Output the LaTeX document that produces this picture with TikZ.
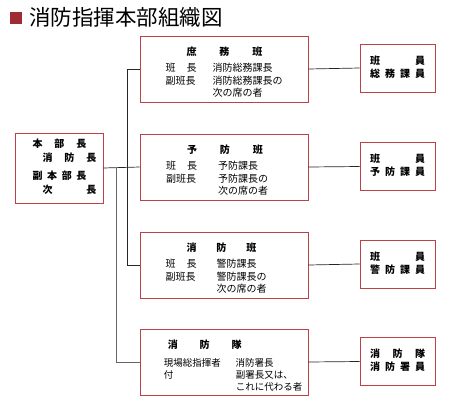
\documentclass[tikz,border=0pt]{standalone}
\usepackage{%
	fontspec,%
	array,%
}
\setmainfont{Noto Sans CJK JP}
\definecolor{BoxRed}{RGB}{192,64,72}
\definecolor{TitleRed}{RGB}{158,44,48}
\newcommand{\spreadtext}[2]{\makebox[#1][s]{#2}}
\newcommand{\hanhead}[2]{\rule{0pt}{18pt}\bfseries\spreadtext{#1}{#2}}
\usetikzlibrary{positioning, calc}

\begin{document}
\begin{tikzpicture}[x=1pt, y=-1pt,
	hanbox/.style={draw=BoxRed, line width=0.8pt, minimum width=168pt, minimum height=66pt, inner sep=0pt, font=\fontsize{10}{12.5}\selectfont},
	chiefbox/.style={draw=BoxRed, line width=0.8pt, minimum width=88pt, minimum height=70pt, inner sep=0pt, font=\bfseries\fontsize{10}{14}\selectfont},
	staffbox/.style={draw=BoxRed, line width=0.8pt, minimum width=75pt, minimum height=48pt, inner sep=0pt, font=\bfseries\fontsize{10}{13}\selectfont},
	conn/.style={draw=black!85, line width=0.7pt}]
	\useasboundingbox (0,0) rectangle (450,410);
	% title
	\node (bullet) at (16,17.5) [fill=TitleRed, minimum size=12pt, inner sep=0pt] {};
	\node (title) at (29,17) [anchor=west, inner sep=0pt, font=\fontsize{21.5}{21.5}\selectfont] {消防指揮本部組織図};
	% chief
	\node (chief) at (59,168) [chiefbox] {%
		\begin{tabular}{@{\hspace{11pt}}l@{}}
			\spreadtext{54pt}{本\hfill 部\hfill 長}\\
			\hspace*{10pt}\spreadtext{54pt}{消\hfill 防\hfill 長}\\[4pt]
			\spreadtext{54pt}{副\hfill 本\hfill 部\hfill 長}\\
			\hspace*{10pt}\spreadtext{54pt}{次\hfill 長}
		\end{tabular}};
	% sections
	\node (shomu) at (224,69) [hanbox] {%
		\begin{tabular}{@{}l@{\hspace{16pt}}l@{}}
			\multicolumn{2}{@{\hspace{21pt}}l@{}}{\hanhead{76pt}{庶\hfill 務\hfill 班}}\\[4pt]
			\spreadtext{31pt}{班\hfill 長} & 消防総務課長\\
			副班長 & 消防総務課長の\\
			& 次の席の者
		\end{tabular}};
	\node (yobou) at (224,167) [hanbox] {%
		\begin{tabular}{@{}l@{\hspace{21pt}}l@{\hspace{14pt}}}
			\multicolumn{2}{@{\hspace{21pt}}l@{}}{\hanhead{76pt}{予\hfill 防\hfill 班}}\\[4pt]
			\spreadtext{31pt}{班\hfill 長} & 予防課長\\
			副班長 & 予防課長の\\
			& 次の席の者
		\end{tabular}};
	\node (keibou) at (224,265) [hanbox] {%
		\begin{tabular}{@{}l@{\hspace{20pt}}l@{\hspace{16pt}}}
			\multicolumn{2}{@{\hspace{21pt}}l@{}}{\hanhead{70pt}{消\hfill 防\hfill 班}}\\[4pt]
			\spreadtext{31pt}{班\hfill 長} & 警防課長\\
			副班長 & 警防課長の\\
			& 次の席の者
		\end{tabular}};
	\node (tai) at (224,362) [hanbox, font=\fontsize{9.5}{12}\selectfont] {%
		\begin{tabular}{@{\hspace{18pt}}l@{\hspace{15pt}}l@{}}
			\multicolumn{2}{@{\hspace{22pt}}l@{}}{\fontsize{10}{12}\selectfont\hanhead{74pt}{消\hfill 防\hfill 隊}}\\[6pt]
			現場総指揮者 & 消防署長\\
			付 & 副署長又は、\\
			& これに代わる者
		\end{tabular}};
	% staff
	\node (shomustaff) at (397.5,68) [staffbox] {%
		\begin{tabular}{@{}l@{}}
			\spreadtext{55pt}{班\hfill 員}\\
			\spreadtext{55pt}{総\hfill 務\hfill 課\hfill 員}
		\end{tabular}};
	\node (yoboustaff) at (397.5,166.5) [staffbox] {%
		\begin{tabular}{@{}l@{}}
			\spreadtext{55pt}{班\hfill 員}\\
			\spreadtext{55pt}{予\hfill 防\hfill 課\hfill 員}
		\end{tabular}};
	\node (keiboustaff) at (397.5,264) [staffbox] {%
		\begin{tabular}{@{}l@{}}
			\spreadtext{55pt}{班\hfill 員}\\
			\spreadtext{55pt}{警\hfill 防\hfill 課\hfill 員}
		\end{tabular}};
	\node (taistaff) at (397.5,361.5) [staffbox] {%
		\begin{tabular}{@{}l@{}}
			\spreadtext{55pt}{消\hfill 防\hfill 隊}\\
			\spreadtext{55pt}{消\hfill 防\hfill 署\hfill 員}
		\end{tabular}};
	% connectors
	\draw[conn] (chief.east) -- (yobou.west);
	\draw[conn] (shomu.west) -- ++(-12,0) |- (keibou.west);
	\draw[conn, draw=black!60] (chief.east) ++(13,0) |- (tai.west);
	\draw[conn] (shomu.east) -- (shomustaff.west);
	\draw[conn] (yobou.east) -- (yoboustaff.west);
	\draw[conn] (keibou.east) -- (keiboustaff.west);
	\draw[conn] (tai.east) -- (taistaff.west);
\end{tikzpicture}
\end{document}
